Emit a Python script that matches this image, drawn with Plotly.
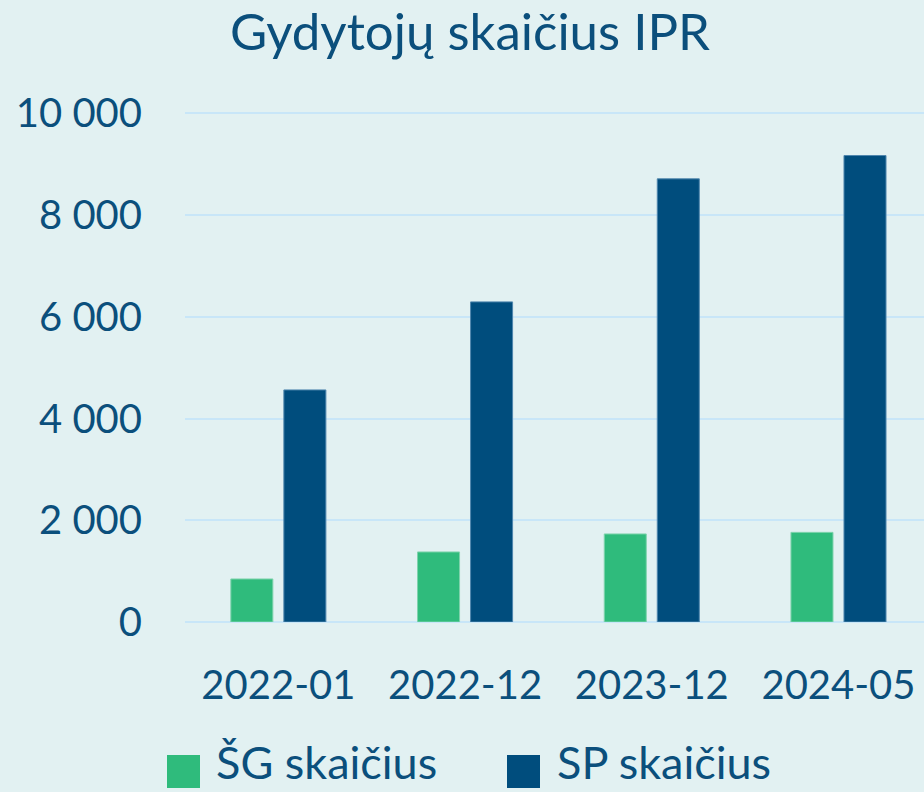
import plotly.graph_objects as go

categories = ["2022-01", "2022-12", "2023-12", "2024-05"]
sg_values = [846, 1377, 1731, 1762]
sp_values = [4562, 6293, 8712, 9170]
series_names = ["ŠG skaičius", "SP skaičius"]
y_ticks = [0, 2000, 4000, 6000, 8000, 10000]
y_tick_labels = ["0", "2 000", "4 000", "6 000", "8 000", "10 000"]

GREEN = "#2fbb7c"
BLUE = "#004d7d"
TEXT = "#0b4f7c"
BG = "#e2f1f2"
GRID = "#c8e6f8"
FONT = "Lato"

W, H = 924, 792
ML, MR, MT, MB = 185, 0, 110, 170
PW, PH = W - ML - MR, H - MT - MB


def px_x(px):
    return (px - ML) / PW


def px_y(py):
    return (H - MB - py) / PH


fig = go.Figure()
fig.add_trace(go.Bar(x=categories, y=sg_values, name=series_names[0],
                     marker=dict(color=GREEN, line=dict(color="#7fd3ad", width=1)),
                     showlegend=False))
fig.add_trace(go.Bar(x=categories, y=sp_values, name=series_names[1],
                     marker=dict(color=BLUE, line=dict(color="#4f86ad", width=1)),
                     showlegend=False))

# Legend drawn as shapes + text (large square keys as in the reference)
legend_items = [(series_names[0], GREEN, 167, 214), (series_names[1], BLUE, 507, 555)]
for name, color, sq_x, tx_x in legend_items:
    fig.add_shape(type="rect", xref="paper", yref="paper",
                  x0=px_x(sq_x), x1=px_x(sq_x + 33), y0=px_y(788), y1=px_y(755),
                  fillcolor=color, line=dict(width=0))
    fig.add_annotation(text=name, xref="paper", yref="paper",
                       x=px_x(tx_x), y=px_y(791), xanchor="left", yanchor="bottom",
                       showarrow=False, font=dict(family=FONT, size=45, color=TEXT))

fig.update_layout(
    width=W, height=H,
    paper_bgcolor=BG, plot_bgcolor=BG,
    margin=dict(l=ML, r=MR, t=MT, b=MB),
    barmode="group", bargap=0.432, bargroupgap=0.2075,
    showlegend=False,
    font=dict(family=FONT, color=TEXT, size=40),
    title=dict(text="Gydytojų skaičius IPR", x=470 / W, xref="container",
               y=1 - 32 / H, yref="container", xanchor="center", yanchor="middle",
               font=dict(family=FONT, size=51, color=TEXT)),
    xaxis=dict(type="category", range=[-0.5, 3.458], showgrid=False,
               showline=False, zeroline=False,
               ticks="outside", ticklen=28, tickcolor="rgba(0,0,0,0)",
               tickfont=dict(family=FONT, size=40, color=TEXT)),
    yaxis=dict(range=[0, 10065], tickvals=y_ticks, ticktext=y_tick_labels,
               showgrid=True, gridcolor=GRID, gridwidth=2,
               zeroline=True, zerolinecolor=GRID, zerolinewidth=2,
               ticks="outside", ticklen=34, tickcolor="rgba(0,0,0,0)",
               tickfont=dict(family=FONT, size=40, color=TEXT)),
)

fig.write_html("out.html", config={"displayModeBar": False},
               post_script="document.body.style.margin='0';document.body.style.overflow='hidden';")
